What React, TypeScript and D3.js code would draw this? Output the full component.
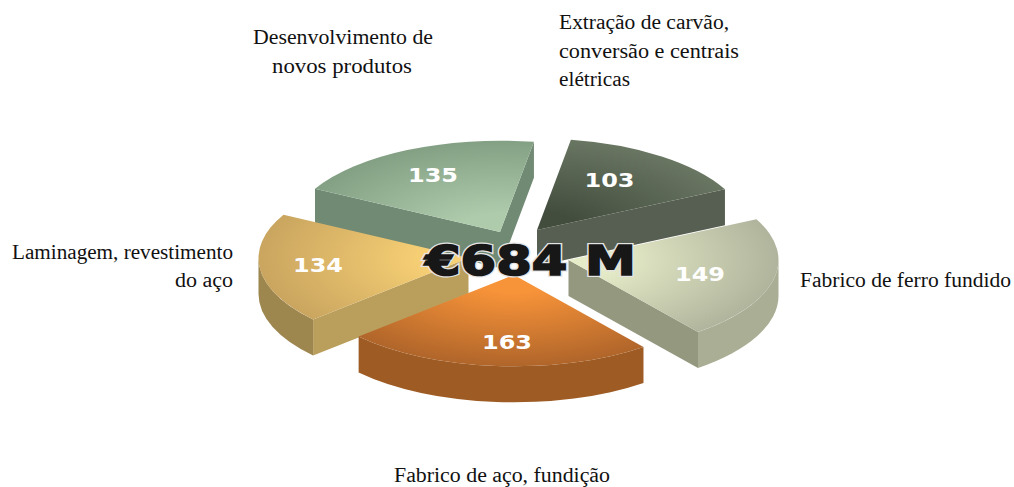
import React from "react";
import * as d3 from "d3";

// ---- data ----
const categories = [
  "Extração de carvão, conversão e centrais elétricas",
  "Fabrico de ferro fundido",
  "Fabrico de aço, fundição",
  "Laminagem, revestimento do aço",
  "Desenvolvimento de novos produtos",
];
const values = [103, 149, 163, 134, 135];
const totalLabel = "€684 M";

// ---- colours, per slice: [inner top, outer top, radial wall, outer wall] ----
const topInner = ["#434d3e", "#e6ebc8", "#f79339", "#f8d075", "#aecbac"];
const topOuter = ["#697662", "#b0b49c", "#b0652a", "#c9a55f", "#84a084"];
const radialWall = ["#575f52", "#93987f", "#9e5c24", "#ba9f5c", "#708a74"];
const outerWall = ["#575f52", "#a9ae95", "#9e5c24", "#9e864f", "#708a74"];

// ---- layout ----
const W = 1014;
const H = 487;
const R = 210;
const K = 0.435;
const DEPTH = 36;
const START_DEG = 9.3;
const drawOrder = [4, 0, 1, 3, 2];
const apexX = [537, 568.5, 514, 468.5, 500];
const apexY = [230, 260, 275, 258, 232];
const valueLabelX = [609.5, 700, 507, 318, 433];
const valueLabelY = [187, 281, 349, 272, 182];

type Line = { text: string; x: number; y: number; len: number; anchor: string };
const outerLabels: Line[] = [
  { text: "Desenvolvimento de", x: 253, y: 44, len: 180, anchor: "start" },
  { text: "novos produtos", x: 272, y: 73, len: 140, anchor: "start" },
  { text: "Extração de carvão,", x: 559, y: 29, len: 170, anchor: "start" },
  { text: "conversão e centrais", x: 559, y: 58, len: 180, anchor: "start" },
  { text: "elétricas", x: 559, y: 86, len: 71, anchor: "start" },
  { text: "Laminagem, revestimento", x: 12, y: 259, len: 221, anchor: "start" },
  { text: "do aço", x: 175, y: 287, len: 58, anchor: "start" },
  { text: "Fabrico de ferro fundido", x: 800, y: 287, len: 211, anchor: "start" },
  { text: "Fabrico de aço, fundição", x: 394, y: 482, len: 216, anchor: "start" },
];

const HALF_PI = Math.PI / 2;

function outerWallPath(a0: number, a1: number, dz: number) {
  const from = Math.max(a0, HALF_PI);
  const to = Math.min(a1, 3 * HALF_PI);
  if (to <= from) return null;
  const p = d3.path();
  p.arc(0, 0, R, from - HALF_PI, to - HALF_PI);
  p.arc(0, dz, R, to - HALF_PI, from - HALF_PI, true);
  p.closePath();
  return p.toString();
}

function radialWallPath(a: number, dz: number) {
  const x = R * Math.sin(a);
  const y = -R * Math.cos(a);
  const p = d3.path();
  p.moveTo(0, 0);
  p.lineTo(x, y);
  p.lineTo(x, y + dz);
  p.lineTo(0, dz);
  p.closePath();
  return p.toString();
}

export default function App() {
  const start = (START_DEG * Math.PI) / 180;
  const pie = d3
    .pie<number>()
    .sort(null)
    .value((d) => d)
    .startAngle(start)
    .endAngle(start + 2 * Math.PI);
  const slices = pie(values);
  const arc = d3.arc<d3.PieArcDatum<number>>().innerRadius(0).outerRadius(R);
  const dz = DEPTH / K;

  return (
    <svg
      width={W}
      height={H}
      viewBox={`0 0 ${W} ${H}`}
      style={{ position: "absolute", left: 0, top: 0, background: "#fff" }}
    >
      <defs>
        {slices.map((_, i) => (
          <radialGradient
            key={i}
            id={`top${i}`}
            gradientUnits="userSpaceOnUse"
            cx={0}
            cy={0}
            r={R}
          >
            <stop offset="0" stopColor={topInner[i]} />
            <stop offset="0.2" stopColor={topInner[i]} />
            <stop offset="1" stopColor={topOuter[i]} />
          </radialGradient>
        ))}
      </defs>

      {drawOrder.map((i) => {
        const s = slices[i];
        const wall = outerWallPath(s.startAngle, s.endAngle, dz);
        return (
          <g
            key={categories[i]}
            transform={`translate(${apexX[i]},${apexY[i]}) scale(1,${K})`}
          >
            {Math.sin(s.startAngle) < 0 && (
              <path d={radialWallPath(s.startAngle, dz)} fill={radialWall[i]} />
            )}
            {Math.sin(s.endAngle) > 0 && (
              <path d={radialWallPath(s.endAngle, dz)} fill={radialWall[i]} />
            )}
            {wall && <path d={wall} fill={outerWall[i]} />}
            <path d={arc(s) as string} fill={`url(#top${i})`} />
          </g>
        );
      })}

      {values.map((v, i) => (
        <text
          key={i}
          x={valueLabelX[i]}
          y={valueLabelY[i]}
          textAnchor="middle"
          textLength={50}
          lengthAdjust="spacingAndGlyphs"
          fontFamily="'DejaVu Sans'"
          fontWeight="bold"
          fontSize={20}
          fill="#fff"
        >
          {v}
        </text>
      ))}

      <text
        x={425}
        y={275}
        textLength={211}
        lengthAdjust="spacingAndGlyphs"
        fontFamily="'DejaVu Sans'"
        fontWeight="bold"
        fontSize={41}
        fill="none"
        stroke="#e4e4e4"
        strokeWidth={4}
      >
        {totalLabel}
      </text>
      <text
        x={425}
        y={275}
        textLength={211}
        lengthAdjust="spacingAndGlyphs"
        fontFamily="'DejaVu Sans'"
        fontWeight="bold"
        fontSize={41}
        fill="#171717"
        stroke="#171717"
        strokeWidth={1.6}
      >
        {totalLabel}
      </text>

      {outerLabels.map((l) => (
        <text
          key={l.text}
          x={l.x}
          y={l.y}
          textAnchor={l.anchor}
          textLength={l.len}
          lengthAdjust="spacingAndGlyphs"
          fontFamily="'Liberation Serif'"
          fontSize={20}
          fill="#111"
        >
          {l.text}
        </text>
      ))}
    </svg>
  );
}
